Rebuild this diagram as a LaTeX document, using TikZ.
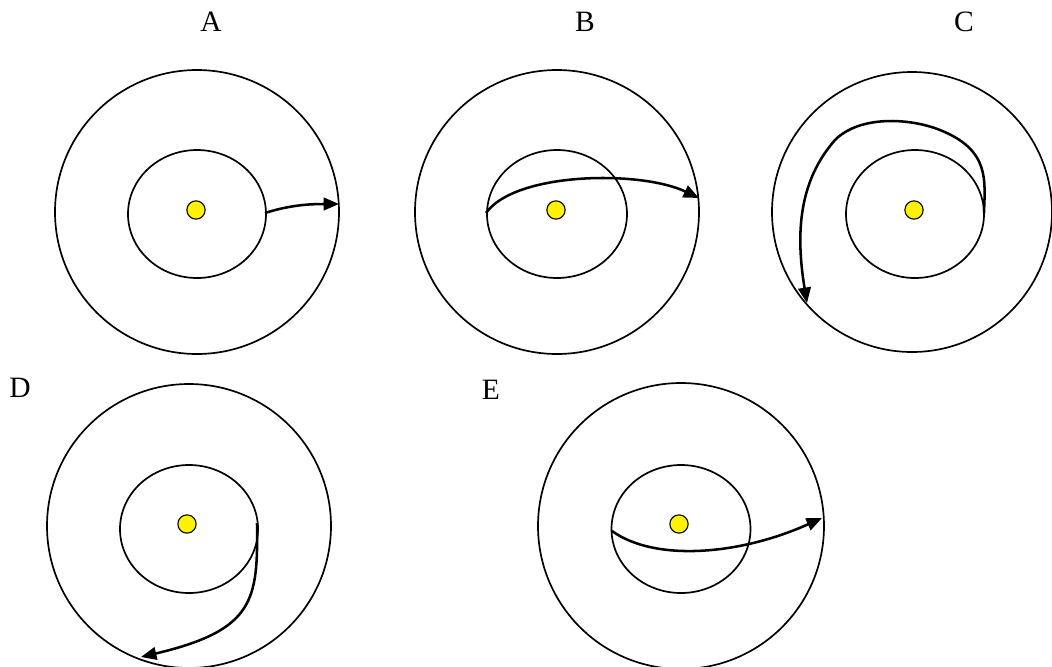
\documentclass[tikz,border=0pt]{standalone}
\usepackage{fontspec}
\setmainfont{Liberation Serif}
\usetikzlibrary{arrows.meta}
\tikzset{
  orbite/.style={line width=1.2pt},
  planete/.style={circle, draw, fill=yellow, line width=0.8pt, minimum size=13pt, inner sep=0pt},
  trajet/.style={line width=1.8pt, -{Triangle[length=11pt,width=9pt]}},
  lettre/.style={font=\fontsize{21}{25}\selectfont}
}
\begin{document}
\begin{tikzpicture}[x=0.025cm, y=-0.025cm]
    \useasboundingbox (0,0) rectangle (1052,666);

    % Cas A
    \node[lettre] (lA) at (211,22) {A};
    \draw[orbite] (197,212) circle (142);
    \draw[orbite] (197,214) ellipse (69 and 64);
    \node[planete] (pA) at (196,210) {};
    \coordinate (dA) at (265,213);
    \coordinate (fA) at (339,204);
    \draw[trajet] (dA) .. controls (290,205) and (310,204) .. (fA);

    % Cas B
    \node[lettre] (lB) at (585,22) {B};
    \draw[orbite] (557,212) circle (142);
    \draw[orbite] (557,214) ellipse (70 and 64);
    \node[planete] (pB) at (556,210) {};
    \coordinate (dB) at (486,213);
    \coordinate (fB) at (699,198);
    \draw[trajet] (dB) .. controls (515,172) and (640,170) .. (fB);

    % Cas C
    \node[lettre] (lC) at (964,22) {C};
    \draw[orbite] (912,212) circle (140);
    \draw[orbite] (915,214) ellipse (69 and 64);
    \node[planete] (pC) at (914,210) {};
    \coordinate (dC) at (984,213);
    \coordinate (fC) at (807,303);
    \draw[trajet] (dC) .. controls (985,180) and (990,150) .. (940,130)
        .. controls (910,118) and (860,115) .. (835,140)
        .. controls (800,180) and (795,230) .. (fC);

    % Cas D
    \node[lettre] (lD) at (20,388) {D};
    \draw[orbite] (189,526) circle (142);
    \draw[orbite] (189,529) ellipse (69 and 64);
    \node[planete] (pD) at (187,524) {};
    \coordinate (dD) at (257,523);
    \coordinate (fD) at (141,657);
    \draw[trajet] (dD) .. controls (258,600) and (255,630) .. (fD);

    % Cas E
    \node[lettre] (lE) at (491,390) {E};
    \draw[orbite] (681,526) circle (143);
    \draw[orbite] (681,529) ellipse (69.5 and 64);
    \node[planete] (pE) at (679,524) {};
    \coordinate (dE) at (612,531);
    \coordinate (fE) at (822,518);
    \draw[trajet] (dE) .. controls (655,562) and (740,555) .. (fE);
\end{tikzpicture}
\end{document}
